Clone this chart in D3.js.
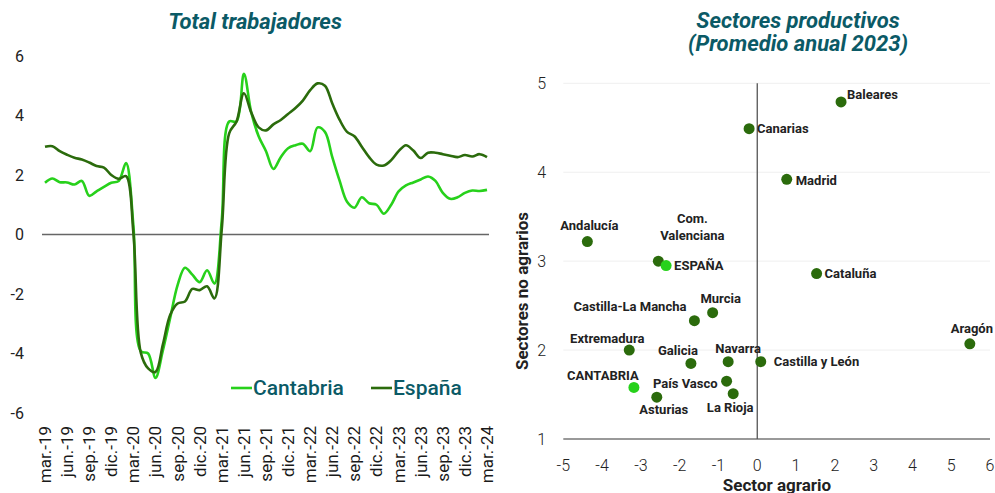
<!DOCTYPE html>
<html>
<head>
<meta charset="utf-8">
<script src="https://cdn.jsdelivr.net/npm/d3@7"></script>
<style>
  body { margin: 0; background: #fff; }
  svg { display: block; font-family: Roboto, "DejaVu Sans", sans-serif; }
  .title { font-family: "Liberation Sans Narrow", "Roboto", sans-serif; font-weight: bold; font-style: italic; fill: #0b5a66; font-size: 22px; }
</style>
</head>
<body>
<svg id="chart" width="995" height="493"></svg>
<script>
// monthly series, mar-19 .. mar-24
var months = ['mar','abr','may','jun','jul','ago','sep','oct','nov','dic','ene','feb'];
var cantabria = [1.74, 1.88, 1.76, 1.75, 1.68, 1.80, 1.30, 1.45, 1.60, 1.74, 1.80, 2.40,
  0.30, -3.92, -4.00, -4.82, -3.90, -2.80, -1.70, -1.12, -1.35, -1.60, -1.20, -1.65,
  0.50, 3.80, 3.80, 5.40, 4.10, 3.30, 2.80, 2.20, 2.60, 2.90, 3.00, 3.05,
  2.80, 3.60, 3.45, 2.60, 1.80, 1.10, 0.90, 1.25, 1.05, 1.00, 0.70, 1.00,
  1.45, 1.65, 1.75, 1.85, 1.95, 1.80, 1.40, 1.20, 1.25, 1.40, 1.48, 1.46, 1.50];
var espana = [2.95, 2.97, 2.80, 2.68, 2.58, 2.52, 2.42, 2.30, 2.25, 2.00, 1.87, 1.96,
  0.05, -3.97, -4.50, -4.62, -3.70, -2.70, -2.32, -2.25, -1.83, -1.87, -1.74, -2.15,
  0.20, 3.40, 3.80, 4.75, 4.10, 3.60, 3.50, 3.70, 3.85, 4.05, 4.25, 4.50,
  4.85, 5.08, 5.00, 4.40, 3.85, 3.45, 3.30, 2.95, 2.60, 2.35, 2.32, 2.50,
  2.80, 3.00, 2.82, 2.57, 2.75, 2.75, 2.70, 2.65, 2.60, 2.67, 2.62, 2.70, 2.60];
var yTicksLeft = [-6, -4, -2, 0, 2, 4, 6];

// scatter: regions, sector agrario (x) vs no agrarios (y)
var regions = ['Baleares','Canarias','Madrid','Andalucía','Com. Valenciana','ESPAÑA','Cataluña',
  'Murcia','Castilla-La Mancha','Extremadura','Galicia','Navarra','Castilla y León','Aragón',
  'CANTABRIA','País Vasco','Asturias','La Rioja'];
var agrario = [2.16, -0.21, 0.76, -4.38, -2.55, -2.35, 1.53, -1.15, -1.62, -3.30, -1.71, -0.75, 0.09, 5.48, -3.18, -0.79, -2.59, -0.62];
var noAgrario = [4.79, 4.49, 3.92, 3.22, 3.00, 2.95, 2.86, 2.42, 2.33, 2.00, 1.85, 1.87, 1.87, 2.07, 1.58, 1.65, 1.47, 1.51];
var xTicksRight = [-5, -4, -3, -2, -1, 0, 1, 2, 3, 4, 5, 6];
var yTicksRight = [1, 2, 3, 4, 5];

var light = '#27d11b', dark = '#2b6b0c', teal = '#0b5a66';
var svg = d3.select('#chart');

// ---- left: total trabajadores
var x = d3.scaleLinear().domain([0, cantabria.length - 1]).range([45, 487]);
var y = d3.scaleLinear().domain([-6, 6]).range([413, 56]);

svg.append('text').attr('class', 'title').attr('x', 255).attr('y', 29)
  .attr('text-anchor', 'middle').text('Total trabajadores');

svg.append('g').selectAll('text').data(yTicksLeft).enter().append('text')
  .attr('x', 24).attr('y', function(d) { return y(d); })
  .attr('dy', '0.35em').attr('text-anchor', 'end')
  .attr('font-size', 16).attr('fill', '#222').text(function(d) { return d; });

svg.append('line').attr('x1', 42).attr('x2', 489)
  .attr('y1', y(0)).attr('y2', y(0)).attr('stroke', '#666').attr('stroke-width', 1.3);

var quarters = d3.range(0, cantabria.length, 3);
svg.append('g').selectAll('text').data(quarters).enter().append('text')
  .attr('transform', function(i) { return 'translate(' + x(i) + ',426) rotate(-90)'; })
  .attr('text-anchor', 'end').attr('dy', '0.35em')
  .attr('font-size', 17).attr('fill', '#1a1a1a')
  .text(function(i) { return months[i % 12] + '.-' + (19 + Math.floor((i + 2) / 12)); });

var line = d3.line()
  .x(function(d, i) { return x(i); })
  .y(function(d) { return y(d); })
  .curve(d3.curveCatmullRom.alpha(0.5));

svg.append('path').datum(cantabria).attr('d', line)
  .attr('fill', 'none').attr('stroke', light).attr('stroke-width', 2.6);
svg.append('path').datum(espana).attr('d', line)
  .attr('fill', 'none').attr('stroke', dark).attr('stroke-width', 2.6);

// legend
var legend = [['Cantabria', light, 231], ['España', dark, 371]];
legend.forEach(function(l) {
  svg.append('line').attr('x1', l[2]).attr('x2', l[2] + 21).attr('y1', 388).attr('y2', 388)
    .attr('stroke', l[1]).attr('stroke-width', 2.6);
  svg.append('text').attr('x', l[2] + 22).attr('y', 388).attr('dy', '0.35em')
    .attr('font-size', 21).attr('font-weight', 500).attr('fill', teal).text(l[0]);
});

// ---- right: sectores productivos
var sx = d3.scaleLinear().domain([-5, 6]).range([563.3, 990]);
var sy = d3.scaleLinear().domain([1, 5]).range([439, 83.3]);

svg.append('text').attr('class', 'title').attr('x', 798).attr('y', 28)
  .attr('text-anchor', 'middle').text('Sectores productivos');
svg.append('text').attr('class', 'title').attr('x', 798).attr('y', 51)
  .attr('text-anchor', 'middle').text('(Promedio anual 2023)');

svg.append('g').selectAll('line').data(yTicksRight).enter().append('line')
  .attr('x1', sx(-5)).attr('x2', sx(6))
  .attr('y1', function(d) { return sy(d); }).attr('y2', function(d) { return sy(d); })
  .attr('stroke', function(d) { return d === 1 ? '#777' : '#efefef'; })
  .attr('stroke-width', function(d) { return d === 1 ? 1.3 : 1; });

svg.append('line').attr('x1', sx(0)).attr('x2', sx(0)).attr('y1', sy(5)).attr('y2', sy(1))
  .attr('stroke', '#555').attr('stroke-width', 1.3);

svg.append('g').selectAll('text').data(yTicksRight).enter().append('text')
  .attr('x', 546).attr('y', function(d) { return sy(d); }).attr('dy', '0.35em')
  .attr('text-anchor', 'end').attr('font-size', 16).attr('font-weight', 300)
  .attr('fill', '#222').text(function(d) { return d; });

svg.append('g').selectAll('text').data(xTicksRight).enter().append('text')
  .attr('x', function(d) { return sx(d); }).attr('y', 465).attr('dy', '0.35em')
  .attr('text-anchor', 'middle').attr('font-size', 16).attr('font-weight', 300)
  .attr('fill', '#222').text(function(d) { return d; });

svg.append('text').attr('x', 777).attr('y', 485).attr('dy', '0.35em')
  .attr('text-anchor', 'middle').attr('font-size', 17).attr('font-weight', 'bold')
  .attr('fill', '#222').text('Sector agrario');
svg.append('text').attr('transform', 'translate(522,291) rotate(-90)').attr('dy', '0.35em')
  .attr('text-anchor', 'middle').attr('font-size', 17).attr('font-weight', 'bold')
  .attr('fill', '#222').text('Sectores no agrarios');

// label placement: [dx, dy, anchor]
var labelPlace = {
  'Baleares': [6, -8, 'start'], 'Canarias': [8, 0, 'start'], 'Madrid': [9, 1, 'start'],
  'Andalucía': [2, -16, 'middle'], 'Com. Valenciana': [34, -43, 'middle'],
  'ESPAÑA': [8, 0, 'start'], 'Cataluña': [8, 0, 'start'], 'Murcia': [8, -14, 'middle'],
  'Castilla-La Mancha': [-8, -14, 'end'], 'Extremadura': [-22, -12, 'middle'],
  'Galicia': [-13, -13, 'middle'], 'Navarra': [10, -13, 'middle'],
  'Castilla y León': [13, 0, 'start'], 'Aragón': [2, -15, 'middle'],
  'CANTABRIA': [-31, -12, 'middle'], 'País Vasco': [-9, 2, 'end'],
  'Asturias': [7, 12, 'middle'], 'La Rioja': [-3, 14, 'middle']
};

var pts = regions.map(function(r, i) { return { name: r, x: agrario[i], y: noAgrario[i] }; });
var isLight = function(d) { return d.name === 'ESPAÑA' || d.name === 'CANTABRIA'; };

svg.append('g').selectAll('circle').data(pts).enter().append('circle')
  .attr('cx', function(d) { return sx(d.x); }).attr('cy', function(d) { return sy(d.y); })
  .attr('r', 5.5).attr('fill', function(d) { return isLight(d) ? light : dark; });

var labels = svg.append('g').selectAll('text').data(pts).enter().append('text')
  .attr('x', function(d) { return sx(d.x) + labelPlace[d.name][0]; })
  .attr('y', function(d) { return sy(d.y) + labelPlace[d.name][1]; })
  .attr('dy', '0.35em').attr('text-anchor', function(d) { return labelPlace[d.name][2]; })
  .attr('font-size', 13).attr('font-weight', 'bold').attr('fill', '#222');
labels.each(function(d) {
  var t = d3.select(this);
  if (d.name === 'Com. Valenciana') {
    t.append('tspan').attr('x', sx(d.x) + 34).text('Com.');
    t.append('tspan').attr('x', sx(d.x) + 34).attr('dy', '1.3em').text('Valenciana');
  } else {
    t.text(d.name);
  }
});
</script>
</body>
</html>
